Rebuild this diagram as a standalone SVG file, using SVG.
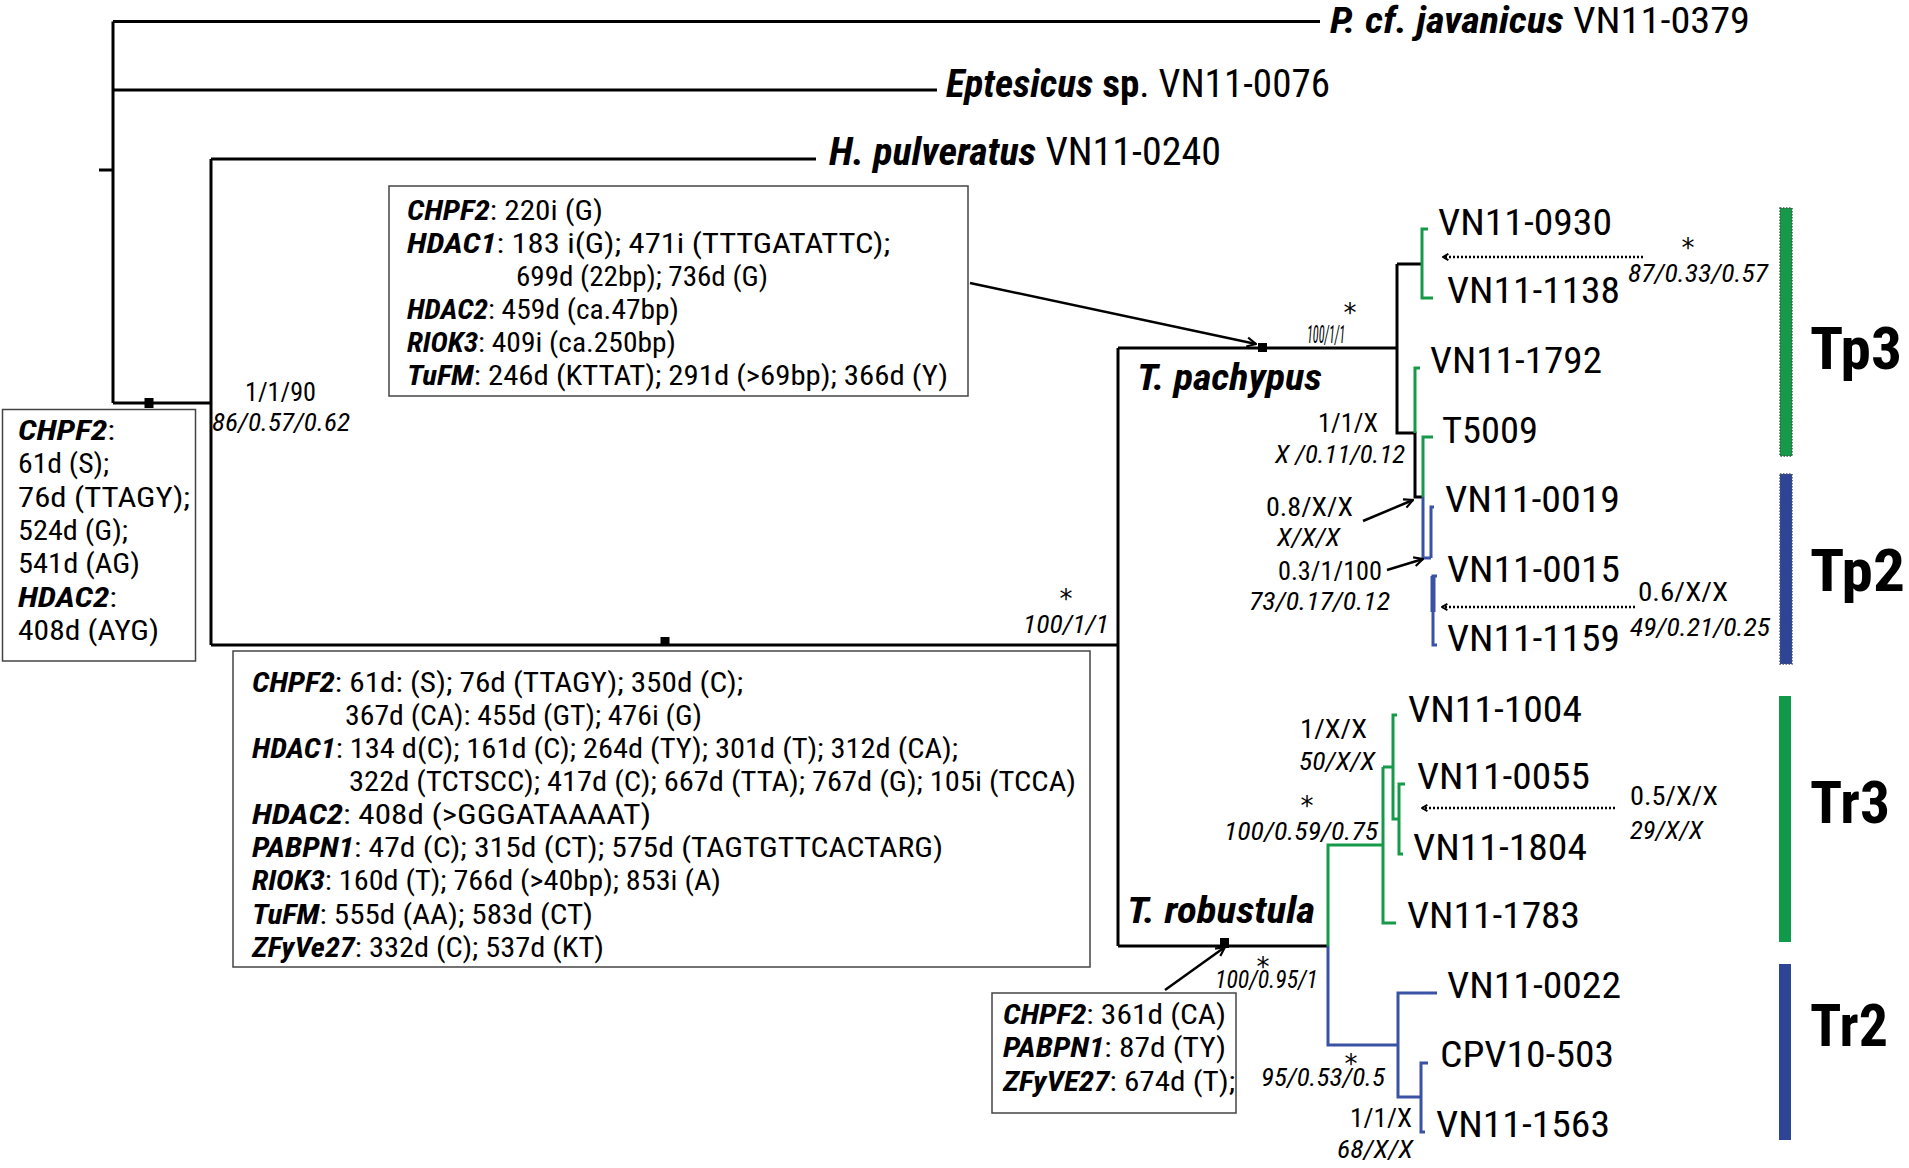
<svg xmlns="http://www.w3.org/2000/svg" width="1909" height="1168" viewBox="0 0 1909 1168">
<style>
text{font-family:"Roboto Condensed","Roboto","DejaVu Sans Condensed",sans-serif;fill:#000}
.bi{font-weight:bold;font-style:italic}
.b{font-weight:bold}
.i{font-style:italic}
.sp{font-size:38px}
.tip{font-size:37px}
.box{font-size:27.5px}
.lab{font-size:26px}
.ast{font-family:"DejaVu Sans",sans-serif;font-size:26px;text-anchor:middle}
.clade{font-size:60px;font-weight:bold}
.bx{fill:#fff;stroke:#444;stroke-width:1.5}
.k{fill:none;stroke:#000;stroke-width:3}
.g{fill:none;stroke:#17994a;stroke-width:3}
.bl{fill:none;stroke:#3a52a4;stroke-width:3}
.arr{fill:none;stroke:#000;stroke-width:2.5;marker-end:url(#ah)}
.dot{fill:none;stroke:#000;stroke-width:2.5;stroke-dasharray:2 2;marker-end:url(#ahs)}
.sq{fill:#000}
</style>
<defs>
<marker id="ah" viewBox="0 0 12 12" refX="11" refY="6" markerWidth="12" markerHeight="12" markerUnits="userSpaceOnUse" orient="auto"><path d="M2,1.5 L11,6 L2,10.5" fill="none" stroke="#000" stroke-width="2.2"/></marker>
<marker id="ahs" viewBox="0 0 10 10" refX="9" refY="5" markerWidth="9" markerHeight="9" markerUnits="userSpaceOnUse" orient="auto"><path d="M3,1.5 L9,5 L3,8.5" fill="none" stroke="#000" stroke-width="2.2"/></marker>
</defs>
<rect width="1909" height="1168" fill="#fff"/>

<g id="connectors">
<path class="k" d="M99,170 H113 M113,21.5 V403 M113,21.5 H1320 M113,90 H937 M113,403 H211 M211,159 V645 M211,159 H816 M211,645 H1118 M1118,348 V946 M1118,348 H1397 M1118,946 H1328"/>
<path class="k" d="M1397,264 H1422 M1397,264 V433 H1415 V497 H1423"/>
<path class="g" d="M1428,229 H1422 V298 H1433 M1420,368 H1415 V433 M1433,437 H1423 V497"/>
<path class="bl" d="M1423,497 V558 H1431 M1434,507 H1431 V558 M1437,576 H1433 V645 H1437"/>
<path class="bl" d="M1433,576 V612" style="stroke-width:5"/>
<path class="g" d="M1328,946 V845 H1383 M1383,767 V923 H1396 M1383,767 H1393 M1397,715 H1393 V819 H1399 M1405,784 H1399 V854 H1403"/>
<path class="bl" d="M1328,946 V1045 H1398 M1437,993 H1398 V1097 H1421 M1428,1063 H1421 V1132 H1425"/>
<rect class="sq" x="144.5" y="398" width="9" height="10"/>
<rect class="sq" x="660.5" y="637" width="9" height="9"/>
<rect class="sq" x="1258" y="343" width="9" height="9"/>
<rect class="sq" x="1220" y="938" width="9" height="10"/>
<line class="arr" x1="970" y1="283" x2="1256" y2="344"/>
<line class="arr" x1="1363" y1="521" x2="1413" y2="500"/>
<line class="arr" x1="1387" y1="570" x2="1423" y2="559"/>
<line class="arr" x1="1165" y1="990" x2="1225" y2="947"/>
<line class="dot" x1="1643" y1="257" x2="1443" y2="257"/>
<line class="dot" x1="1635" y1="607" x2="1442" y2="607"/>
<line class="dot" x1="1615" y1="808" x2="1422" y2="808"/>
</g>

<g id="taxon-pjavanicus"><text font-size="36" x="1330" y="33" textLength="420" lengthAdjust="spacingAndGlyphs"><tspan class="bi">P. cf. javanicus</tspan> VN11-0379</text></g>
<g id="taxon-eptesicus"><text class="sp" x="946" y="97" textLength="384" lengthAdjust="spacingAndGlyphs"><tspan class="bi">Eptesicus</tspan><tspan class="b"> sp</tspan>. VN11-0076</text></g>
<g id="taxon-hpulveratus"><text class="sp" x="829" y="165" textLength="392" lengthAdjust="spacingAndGlyphs"><tspan class="bi">H. pulveratus</tspan> VN11-0240</text></g>

<g id="box-left">
<rect class="bx" x="2.5" y="409.5" width="193" height="251.5"/>
<text class="box" x="18" y="440" textLength="97" lengthAdjust="spacingAndGlyphs"><tspan class="bi">CHPF2</tspan>:</text>
<text class="box" x="18" y="473" textLength="91" lengthAdjust="spacingAndGlyphs">61d (S);</text>
<text class="box" x="18" y="507" textLength="172" lengthAdjust="spacingAndGlyphs">76d (TTAGY);</text>
<text class="box" x="18" y="540" textLength="110" lengthAdjust="spacingAndGlyphs">524d (G);</text>
<text class="box" x="18" y="573" textLength="122" lengthAdjust="spacingAndGlyphs">541d (AG)</text>
<text class="box" x="18" y="607" textLength="99" lengthAdjust="spacingAndGlyphs"><tspan class="bi">HDAC2</tspan>:</text>
<text class="box" x="18" y="640" textLength="141" lengthAdjust="spacingAndGlyphs">408d (AYG)</text>
</g>

<g id="box-middle">
<rect class="bx" x="389" y="186" width="579" height="210"/>
<text class="box" x="407" y="220" textLength="196" lengthAdjust="spacingAndGlyphs"><tspan class="bi">CHPF2</tspan>: 220i (G)</text>
<text class="box" x="407" y="253" textLength="483" lengthAdjust="spacingAndGlyphs"><tspan class="bi">HDAC1</tspan>: 183 i(G); 471i (TTTGATATTC);</text>
<text class="box" x="516" y="286" textLength="252" lengthAdjust="spacingAndGlyphs">699d (22bp); 736d (G)</text>
<text class="box" x="407" y="319" textLength="272" lengthAdjust="spacingAndGlyphs"><tspan class="bi">HDAC2</tspan>: 459d (ca.47bp)</text>
<text class="box" x="407" y="352" textLength="269" lengthAdjust="spacingAndGlyphs"><tspan class="bi">RIOK3</tspan>: 409i (ca.250bp)</text>
<text class="box" x="407" y="385" textLength="541" lengthAdjust="spacingAndGlyphs"><tspan class="bi">TuFM</tspan>: 246d (KTTAT); 291d (&gt;69bp); 366d (Y)</text>
</g>

<g id="box-bottom">
<rect class="bx" x="233" y="651" width="857" height="316"/>
<text class="box" x="252" y="692" textLength="491" lengthAdjust="spacingAndGlyphs"><tspan class="bi">CHPF2</tspan>: 61d: (S); 76d (TTAGY); 350d (C);</text>
<text class="box" x="345" y="725" textLength="357" lengthAdjust="spacingAndGlyphs">367d (CA): 455d (GT); 476i (G)</text>
<text class="box" x="252" y="758" textLength="706" lengthAdjust="spacingAndGlyphs"><tspan class="bi">HDAC1</tspan>: 134 d(C); 161d (C); 264d (TY); 301d (T); 312d (CA);</text>
<text class="box" x="349" y="791" textLength="727" lengthAdjust="spacingAndGlyphs">322d (TCTSCC); 417d (C); 667d (TTA); 767d (G); 105i (TCCA)</text>
<text class="box" x="252" y="824" textLength="399" lengthAdjust="spacingAndGlyphs"><tspan class="bi">HDAC2</tspan>: 408d (&gt;GGGATAAAAT)</text>
<text class="box" x="252" y="857" textLength="691" lengthAdjust="spacingAndGlyphs"><tspan class="bi">PABPN1</tspan>: 47d (C); 315d (CT); 575d (TAGTGTTCACTARG)</text>
<text class="box" x="252" y="890" textLength="469" lengthAdjust="spacingAndGlyphs"><tspan class="bi">RIOK3</tspan>: 160d (T); 766d (&gt;40bp); 853i (A)</text>
<text class="box" x="252" y="924" textLength="341" lengthAdjust="spacingAndGlyphs"><tspan class="bi">TuFM</tspan>: 555d (AA); 583d (CT)</text>
<text class="box" x="252" y="957" textLength="352" lengthAdjust="spacingAndGlyphs"><tspan class="bi">ZFyVe27</tspan>: 332d (C); 537d (KT)</text>
</g>

<g id="box-robustula">
<rect class="bx" x="992" y="993" width="244" height="120"/>
<text class="box" x="1003" y="1024" textLength="223" lengthAdjust="spacingAndGlyphs"><tspan class="bi">CHPF2</tspan>: 361d (CA)</text>
<text class="box" x="1003" y="1057" textLength="223" lengthAdjust="spacingAndGlyphs"><tspan class="bi">PABPN1</tspan>: 87d (TY)</text>
<text class="box" x="1003" y="1091" textLength="232" lengthAdjust="spacingAndGlyphs"><tspan class="bi">ZFyVE27</tspan>: 674d (T);</text>
</g>

<g id="label-pachypus"><text class="bi" font-size="36" x="1137" y="390" textLength="185" lengthAdjust="spacingAndGlyphs">T. pachypus</text></g>
<g id="label-robustula"><text class="bi" font-size="36" x="1127" y="923" textLength="188" lengthAdjust="spacingAndGlyphs">T. robustula</text></g>

<g id="tips">
<text class="tip" x="1438" y="235" textLength="174" lengthAdjust="spacingAndGlyphs">VN11-0930</text>
<text class="tip" x="1447" y="303" textLength="173" lengthAdjust="spacingAndGlyphs">VN11-1138</text>
<text class="tip" x="1430" y="373" textLength="172" lengthAdjust="spacingAndGlyphs">VN11-1792</text>
<text class="tip" x="1442" y="443" textLength="96" lengthAdjust="spacingAndGlyphs">T5009</text>
<text class="tip" x="1445" y="512" textLength="175" lengthAdjust="spacingAndGlyphs">VN11-0019</text>
<text class="tip" x="1447" y="582" textLength="173" lengthAdjust="spacingAndGlyphs">VN11-0015</text>
<text class="tip" x="1447" y="651" textLength="173" lengthAdjust="spacingAndGlyphs">VN11-1159</text>
<text class="tip" x="1408" y="722" textLength="174" lengthAdjust="spacingAndGlyphs">VN11-1004</text>
<text class="tip" x="1417" y="789" textLength="173" lengthAdjust="spacingAndGlyphs">VN11-0055</text>
<text class="tip" x="1413" y="860" textLength="174" lengthAdjust="spacingAndGlyphs">VN11-1804</text>
<text class="tip" x="1407" y="928" textLength="173" lengthAdjust="spacingAndGlyphs">VN11-1783</text>
<text class="tip" x="1447" y="998" textLength="174" lengthAdjust="spacingAndGlyphs">VN11-0022</text>
<text class="tip" x="1440" y="1067" textLength="174" lengthAdjust="spacingAndGlyphs">CPV10-503</text>
<text class="tip" x="1436" y="1137" textLength="174" lengthAdjust="spacingAndGlyphs">VN11-1563</text>
</g>

<g id="support">
<text class="lab" x="245" y="400.5" textLength="71" lengthAdjust="spacingAndGlyphs">1/1/90</text>
<text class="lab i" x="212" y="431" textLength="138" lengthAdjust="spacingAndGlyphs">86/0.57/0.62</text>
<text class="ast" x="1066" y="608">*</text>
<text class="lab i" x="1023" y="633" textLength="86" lengthAdjust="spacingAndGlyphs">100/1/1</text>
<text class="ast" x="1350" y="322">*</text>
<text class="lab i" font-size="22" x="1307" y="343" textLength="38" lengthAdjust="spacingAndGlyphs">100/1/1</text>
<text class="ast" x="1688" y="257">*</text>
<text class="lab i" x="1628" y="282" textLength="140" lengthAdjust="spacingAndGlyphs">87/0.33/0.57</text>
<text class="lab" x="1318" y="432" textLength="60" lengthAdjust="spacingAndGlyphs">1/1/X</text>
<text class="lab i" x="1275" y="463" textLength="130" lengthAdjust="spacingAndGlyphs">X /0.11/0.12</text>
<text class="lab" x="1266" y="515.5" textLength="87" lengthAdjust="spacingAndGlyphs">0.8/X/X</text>
<text class="lab i" x="1277" y="546" textLength="63" lengthAdjust="spacingAndGlyphs">X/X/X</text>
<text class="lab" x="1278" y="579.5" textLength="104" lengthAdjust="spacingAndGlyphs">0.3/1/100</text>
<text class="lab i" x="1249" y="610" textLength="141" lengthAdjust="spacingAndGlyphs">73/0.17/0.12</text>
<text class="lab" x="1638" y="601" textLength="90" lengthAdjust="spacingAndGlyphs">0.6/X/X</text>
<text class="lab i" x="1630" y="636" textLength="140" lengthAdjust="spacingAndGlyphs">49/0.21/0.25</text>
<text class="lab" x="1300" y="738" textLength="67" lengthAdjust="spacingAndGlyphs">1/X/X</text>
<text class="lab i" x="1299" y="770" textLength="76" lengthAdjust="spacingAndGlyphs">50/X/X</text>
<text class="ast" x="1307" y="815">*</text>
<text class="lab i" x="1224" y="840" textLength="154" lengthAdjust="spacingAndGlyphs">100/0.59/0.75</text>
<text class="lab" x="1630" y="805" textLength="88" lengthAdjust="spacingAndGlyphs">0.5/X/X</text>
<text class="lab i" x="1630" y="839" textLength="73" lengthAdjust="spacingAndGlyphs">29/X/X</text>
<text class="ast" x="1263" y="976">*</text>
<text class="lab i" x="1215" y="988" textLength="103" lengthAdjust="spacingAndGlyphs">100/0.95/1</text>
<text class="ast" x="1351" y="1073">*</text>
<text class="lab i" x="1261" y="1086" textLength="124" lengthAdjust="spacingAndGlyphs">95/0.53/0.5</text>
<text class="lab" x="1350" y="1127" textLength="62" lengthAdjust="spacingAndGlyphs">1/1/X</text>
<text class="lab i" x="1337" y="1157.5" textLength="76" lengthAdjust="spacingAndGlyphs">68/X/X</text>
</g>

<g id="clade-Tp3">
<rect x="1780" y="208" width="12" height="248" fill="#17994a" stroke="#3f5a48" stroke-width="1.5" stroke-dasharray="1.5 1.5"/>
<text class="clade" x="1810" y="369" textLength="92" lengthAdjust="spacingAndGlyphs">Tp3</text>
</g>
<g id="clade-Tp2">
<rect x="1780" y="474" width="12" height="190" fill="#2e4596" stroke="#4a5070" stroke-width="1.5" stroke-dasharray="1.5 1.5"/>
<text class="clade" x="1810" y="591" textLength="95" lengthAdjust="spacingAndGlyphs">Tp2</text>
</g>
<g id="clade-Tr3">
<rect x="1779" y="696" width="12" height="246" fill="#0e9a48"/>
<text class="clade" x="1810" y="823" textLength="80" lengthAdjust="spacingAndGlyphs">Tr3</text>
</g>
<g id="clade-Tr2">
<rect x="1779" y="964" width="12" height="176" fill="#2e4596"/>
<text class="clade" x="1810" y="1046" textLength="78" lengthAdjust="spacingAndGlyphs">Tr2</text>
</g>
</svg>
